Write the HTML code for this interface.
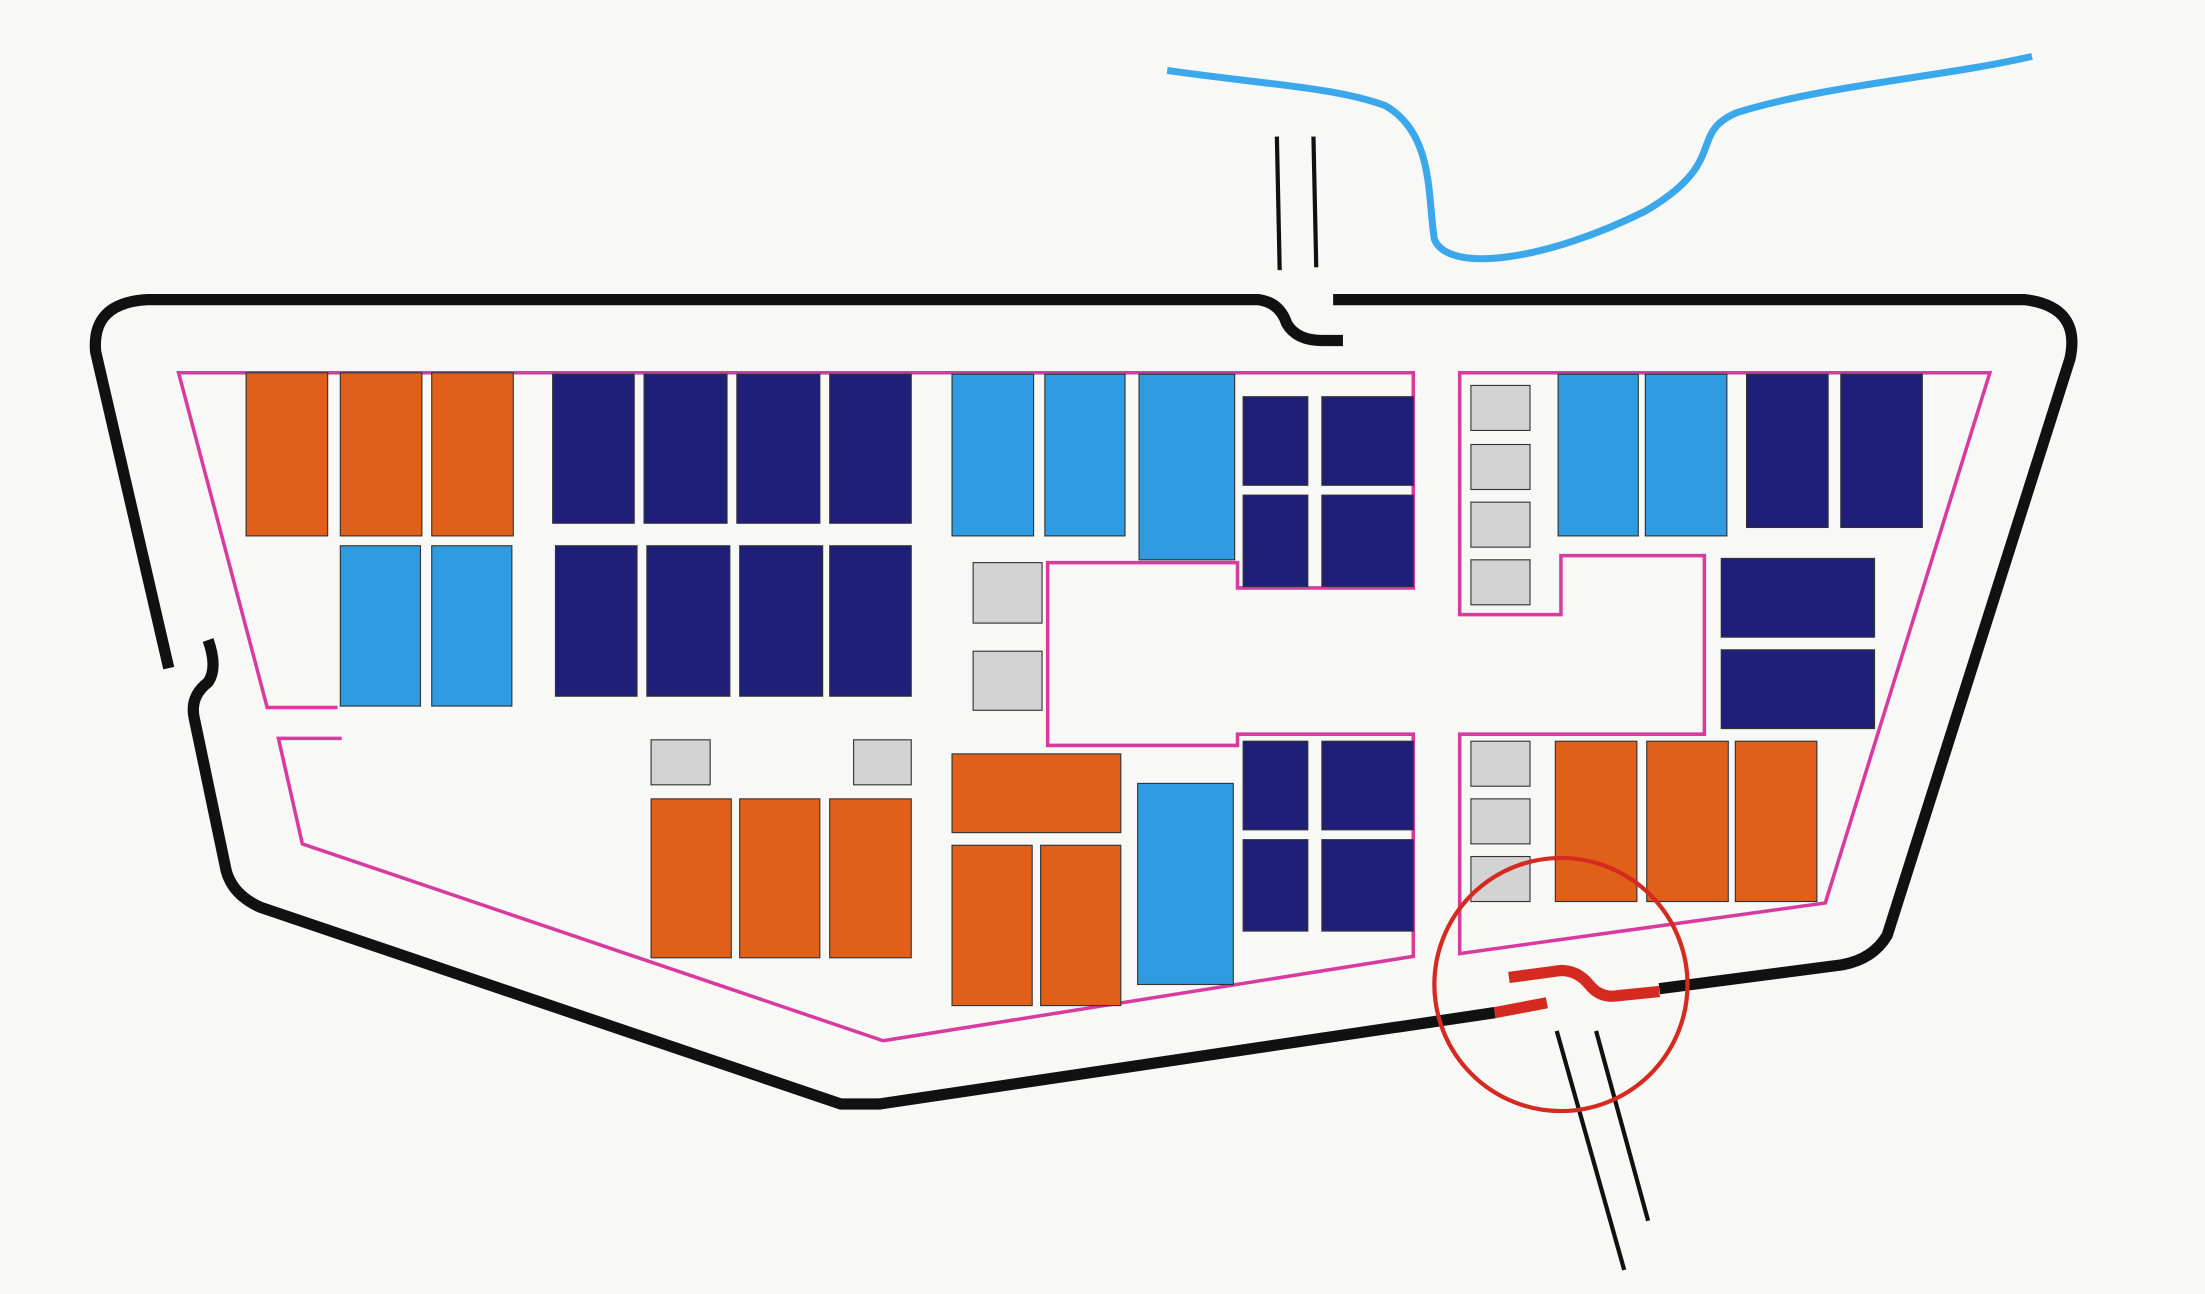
<!DOCTYPE html>
<html><head><meta charset="utf-8"><style>html,body{margin:0;padding:0;background:#f8f8f7}svg{display:block}</style></head>
<body>
<svg width="2205" height="1294" viewBox="0 0 1568 920" xmlns="http://www.w3.org/2000/svg">
<rect width="1568" height="920" fill="#f8f8f7"/>
<path d="M830,50 C900,60 950,62 985,75 C1020,95 1015,140 1020,170 C1030,195 1100,185 1170,150 C1230,115 1200,95 1235,80 C1300,60 1380,55 1445,40" fill="none" stroke="#3aa8ea" stroke-width="5"/>
<g stroke="#111" stroke-width="3">
<line x1="908" y1="97" x2="910" y2="192"/><line x1="934" y1="97" x2="936" y2="190"/>
<line x1="1107" y1="733" x2="1155" y2="903"/><line x1="1135" y1="733" x2="1172" y2="868"/>
</g>
<g fill="none" stroke="#111" stroke-width="8" stroke-linecap="butt" stroke-linejoin="round">
<path d="M948,213 L1440,213 Q1480,218 1472,255 L1342,665 Q1332,682 1310,686 L1180,703"/>
<path d="M1063,720 L625,785 L598,785 L185,645 Q163,635 160,615 L138,510 Q135,495 148,485 Q155,475 148,455"/>
<path d="M120,475 L68,250 Q65,215 105,213 L895,213 Q910,215 915,230 Q922,242 940,242 L955,242"/>
</g>
<g fill="none" stroke="#d42a20" stroke-width="8">
<path d="M1073,695 L1110,690 Q1122,690 1130,700 Q1138,710 1150,708 L1180,705"/>
<path d="M1063,720 L1100,713"/>
</g>
<g fill="none" stroke="#d83aa0" stroke-width="2.5">
<polyline points="240,503 190,503 127,265 1005,265 1005,418 880,418 880,400 745,400 745,530 880,530 880,522 1005,522 1005,680 628,740 215,600 198,525 243,525"/>
<polygon points="1038,437 1038,265 1415,265 1298,642 1038,678 1038,522 1212,522 1212,395 1110,395 1110,437"/>
</g>
<g stroke="#333" stroke-width="0.8">
<g fill="#e0601a">
<rect x="175" y="265" width="58" height="116"/><rect x="242" y="265" width="58" height="116"/><rect x="307" y="265" width="58" height="116"/>
<rect x="463" y="568" width="57" height="113"/><rect x="526" y="568" width="57" height="113"/><rect x="590" y="568" width="58" height="113"/>
<rect x="677" y="536" width="120" height="56"/><rect x="677" y="601" width="57" height="114"/><rect x="740" y="601" width="57" height="114"/>
<rect x="1106" y="527" width="58" height="114"/><rect x="1171" y="527" width="58" height="114"/><rect x="1234" y="527" width="58" height="114"/>
</g>
<g fill="#2f9be0">
<rect x="242" y="388" width="57" height="114"/><rect x="307" y="388" width="57" height="114"/>
<rect x="677" y="266" width="58" height="115"/><rect x="743" y="266" width="57" height="115"/><rect x="810" y="266" width="68" height="132"/>
<rect x="809" y="557" width="68" height="143"/>
<rect x="1108" y="266" width="57" height="115"/><rect x="1170" y="266" width="58" height="115"/>
</g>
<g fill="#1f1f7a">
<rect x="393" y="266" width="58" height="106"/><rect x="458" y="266" width="59" height="106"/><rect x="524" y="266" width="59" height="106"/><rect x="590" y="266" width="58" height="106"/>
<rect x="395" y="388" width="58" height="107"/><rect x="460" y="388" width="59" height="107"/><rect x="526" y="388" width="59" height="107"/><rect x="590" y="388" width="58" height="107"/>
<rect x="884" y="282" width="46" height="63"/><rect x="940" y="282" width="65" height="63"/><rect x="884" y="352" width="46" height="65"/><rect x="940" y="352" width="65" height="65"/>
<rect x="884" y="527" width="46" height="63"/><rect x="940" y="527" width="65" height="63"/><rect x="884" y="597" width="46" height="65"/><rect x="940" y="597" width="65" height="65"/>
<rect x="1242" y="266" width="58" height="109"/><rect x="1309" y="266" width="58" height="109"/>
<rect x="1224" y="397" width="109" height="56"/><rect x="1224" y="462" width="109" height="56"/>
</g>
<g fill="#d3d3d3">
<rect x="692" y="400" width="49" height="43"/><rect x="692" y="463" width="49" height="42"/>
<rect x="1046" y="274" width="42" height="32"/><rect x="1046" y="316" width="42" height="32"/><rect x="1046" y="357" width="42" height="32"/><rect x="1046" y="398" width="42" height="32"/>
<rect x="463" y="526" width="42" height="32"/><rect x="607" y="526" width="41" height="32"/>
<rect x="1046" y="527" width="42" height="32"/><rect x="1046" y="568" width="42" height="32"/><rect x="1046" y="609" width="42" height="32"/>
</g>
</g>
<circle cx="1110" cy="700" r="90" fill="none" stroke="#d42a20" stroke-width="3"/>
</svg>
</body></html>
